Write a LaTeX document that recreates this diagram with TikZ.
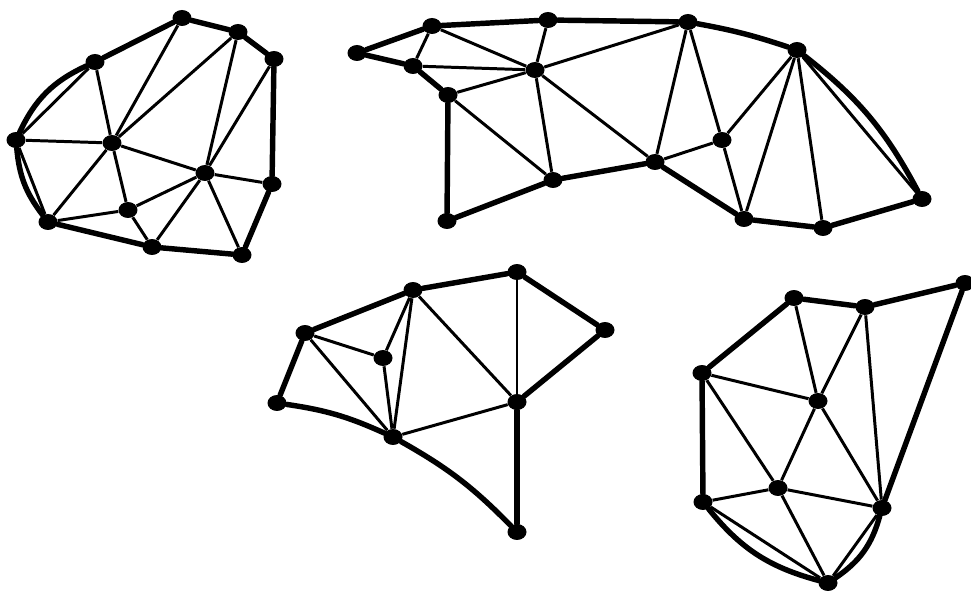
\documentclass[tikz,border=0pt]{standalone}
\usepackage{tikz}
\usetikzlibrary{shapes.geometric}

\begin{document}
\begin{tikzpicture}[
  x=0.02cm, y=-0.02cm,
  vx/.style={ellipse, fill=black, minimum width=3.8mm, minimum height=3.2mm, inner sep=0pt},
  ln/.style={line width=1.7pt, draw=black},
  bd/.style={line width=3.1pt, draw=black, line cap=round},
]
\useasboundingbox (0,0) rectangle (971,591);
% ---------------- top left ----------------
\node[vx] (a1) at (182,18) {};
\node[vx] (a2) at (238,32) {};
\node[vx] (a3) at (274,59) {};
\node[vx] (a4) at (95,62) {};
\node[vx] (a5) at (16,140) {};
\node[vx] (a6) at (112,143) {};
\node[vx] (a7) at (205,173) {};
\node[vx] (a8) at (272,184) {};
\node[vx] (a9) at (128,210) {};
\node[vx] (a10) at (48,222) {};
\node[vx] (a11) at (152,247) {};
\node[vx] (a12) at (242,255) {};
\draw[bd] (a4) -- (a1); \draw[bd] (a1) -- (a2); \draw[bd] (a2) -- (a3); \draw[bd] (a3) -- (a8);
\draw[bd] (a8) -- (a12); \draw[bd] (a12) -- (a11); \draw[bd] (a11) -- (a10);
\draw[bd] (a5) to[bend left=20] (a4);
\draw[bd] (a10) to[bend left=16] (a5);
\foreach \u/\v in {a4/a5, a5/a10, a1/a6, a2/a6, a2/a7, a3/a7, a4/a6, a5/a6, a6/a10, a6/a9,
  a6/a7, a7/a8, a7/a9, a7/a11, a7/a12, a9/a10, a9/a11}
  \draw[ln] (\u) -- (\v);

% ---------------- top right ----------------
\node[vx] (b1) at (357,53) {};
\node[vx] (b2) at (432,26) {};
\node[vx] (b3) at (413,66) {};
\node[vx] (b4) at (448,95) {};
\node[vx] (b5) at (548,20) {};
\node[vx] (b6) at (535,70) {};
\node[vx] (b7) at (447,221) {};
\node[vx] (b8) at (553,180) {};
\node[vx] (b9) at (655,162) {};
\node[vx] (b10) at (688,22) {};
\node[vx] (b11) at (797,50) {};
\node[vx] (b12) at (722,140) {};
\node[vx] (b13) at (744,219) {};
\node[vx] (b14) at (823,228) {};
\node[vx] (b15) at (922,199) {};
\draw[bd] (b1) -- (b2); \draw[bd] (b1) -- (b3); \draw[bd] (b3) -- (b4); \draw[bd] (b2) -- (b5);
\draw[bd] (b5) -- (b10); \draw[bd] (b10) to[bend left=4] (b11);
\draw[bd] (b11) to[bend left=12] (b15);
\draw[bd] (b15) -- (b14); \draw[bd] (b14) -- (b13); \draw[bd] (b13) -- (b9);
\draw[bd] (b9) -- (b8); \draw[bd] (b8) -- (b7); \draw[bd] (b7) -- (b4);
\foreach \u/\v in {b2/b3, b2/b6, b3/b6, b4/b6, b5/b6, b6/b10, b6/b8, b6/b9, b4/b8,
  b10/b12, b10/b9, b12/b9, b12/b11, b12/b13, b11/b13, b11/b14, b11/b15}
  \draw[ln] (\u) -- (\v);

% ---------------- bottom middle ----------------
\node[vx] (c1) at (517,272) {};
\node[vx] (c2) at (413,290) {};
\node[vx] (c3) at (305,333) {};
\node[vx] (c4) at (383,358) {};
\node[vx] (c5) at (605,330) {};
\node[vx] (c6) at (277,403) {};
\node[vx] (c7) at (517,402) {};
\node[vx] (c8) at (393,437) {};
\node[vx] (c9) at (517,532) {};
\draw[bd] (c3) -- (c2); \draw[bd] (c2) -- (c1); \draw[bd] (c1) -- (c5); \draw[bd] (c5) -- (c7);
\draw[bd] (c7) -- (c9); \draw[bd] (c8) to[bend left=8] (c9);
\draw[bd] (c6) to[bend left=8] (c8); \draw[bd] (c6) -- (c3);
\foreach \u/\v in {c1/c7, c2/c7, c2/c4, c2/c8, c3/c4, c3/c8, c4/c8, c7/c8}
  \draw[ln] (\u) -- (\v);

% ---------------- bottom right ----------------
\node[vx] (d1) at (794,298) {};
\node[vx] (d2) at (865,307) {};
\node[vx] (d3) at (965,283) {};
\node[vx] (d4) at (702,373) {};
\node[vx] (d5) at (818,401) {};
\node[vx] (d6) at (778,488) {};
\node[vx] (d7) at (703,502) {};
\node[vx] (d8) at (882,508) {};
\node[vx] (d9) at (828,583) {};
\draw[bd] (d4) -- (d1); \draw[bd] (d1) -- (d2); \draw[bd] (d2) -- (d3); \draw[bd] (d3) -- (d8);
\draw[bd] (d4) -- (d7); \draw[bd] (d7) to[bend right=18] (d9);
\draw[bd] (d9) to[bend right=20] (d8);
\foreach \u/\v in {d7/d9, d9/d8, d1/d5, d2/d5, d2/d8, d4/d5, d4/d6, d5/d6, d5/d8,
  d6/d7, d6/d8, d6/d9}
  \draw[ln] (\u) -- (\v);
\end{tikzpicture}
\end{document}
